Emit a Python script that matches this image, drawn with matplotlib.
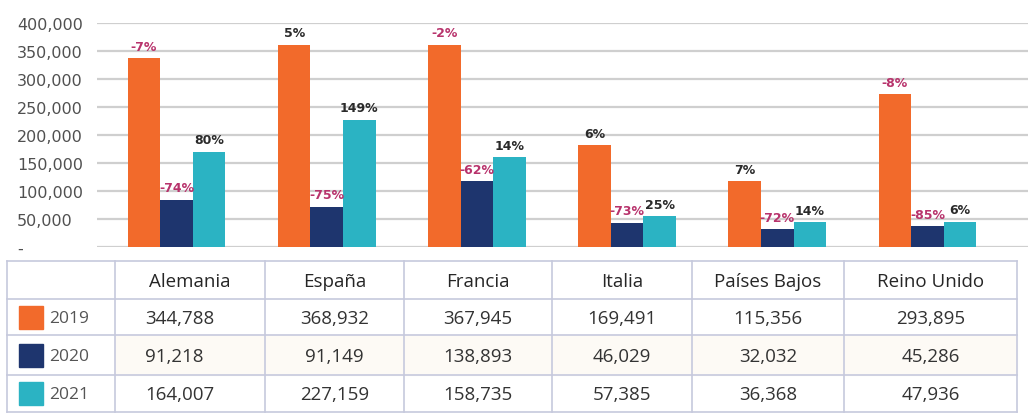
import matplotlib
matplotlib.use("Agg")
import matplotlib.pyplot as plt
from matplotlib.patches import Rectangle

# ---------------- data ----------------
countries = ["Alemania", "España", "Francia", "Italia", "Países Bajos", "Reino Unido"]
years = ["2019", "2020", "2021"]

# bar heights as drawn in the chart
bars_2019 = [337000, 361000, 361000, 182000, 117000, 273000]
bars_2020 = [84500, 72000, 117000, 43000, 32000, 37000]
bars_2021 = [170000, 227000, 160000, 55000, 44000, 45000]

# percentage labels over the bars
pct_2019 = ["-7%", "5%", "-2%", "6%", "7%", "-8%"]
pct_2020 = ["-74%", "-75%", "-62%", "-73%", "-72%", "-85%"]
pct_2021 = ["80%", "149%", "14%", "25%", "14%", "6%"]

# values in the data table
table_2019 = [344788, 368932, 367945, 169491, 115356, 293895]
table_2020 = [91218, 91149, 138893, 46029, 32032, 45286]
table_2021 = [164007, 227159, 158735, 57385, 36368, 47936]

yticks = [0, 50000, 100000, 150000, 200000, 250000, 300000, 350000, 400000]

# ---------------- style ----------------
colors = ["#F26A2B", "#1E356E", "#2BB3C3"]
neg_color = "#B8336C"
pos_color = "#2a2a2a"
text_color = "#333333"
W, H = 1028, 414

fig = plt.figure(figsize=(W / 100, H / 100), dpi=100)
fig.patch.set_facecolor("white")

ax = fig.add_axes([97 / W, (H - 248) / H, (W - 97) / W, (248 - 24) / H])
bw = 0.217
xs = list(range(len(countries)))
series = [bars_2019, bars_2020, bars_2021]
pcts = [pct_2019, pct_2020, pct_2021]
for k, (vals, labs) in enumerate(zip(series, pcts)):
    pos = [x + (k - 1) * bw for x in xs]
    ax.bar(pos, vals, width=bw, color=colors[k], zorder=3)
    for p, v, lab in zip(pos, vals, labs):
        neg = lab.startswith("-")
        ax.annotate(lab, (p, v), xytext=(0, 4), textcoords="offset points",
                    ha="center", va="bottom", fontsize=9,
                    fontweight="semibold" if neg else "bold",
                    color=neg_color if neg else pos_color,
                    family="DejaVu Sans", zorder=4, annotation_clip=False)

ax.set_xlim(-0.53, 5.67)
ax.set_ylim(0, 400000)
ax.set_yticks(yticks)
ax.set_yticklabels(["-" if t == 0 else f"{t:,}" for t in yticks],
                   fontsize=11.5, color="#505050", family="DejaVu Sans")
ax.tick_params(axis="y", length=0, pad=57.6)
for lbl in ax.get_yticklabels():
    lbl.set_horizontalalignment("left")
ax.set_xticks([])
ax.yaxis.grid(True, color="#cfcfcf", lw=1.6, zorder=0)
ax.set_axisbelow(True)
for s in ax.spines.values():
    s.set_visible(False)

# ---------------- data table ----------------
tab = fig.add_axes([0, 0, 1, 1])
tab.set_xlim(0, W)
tab.set_ylim(H, 0)
tab.axis("off")

col_edges = [7, 115, 265, 404, 552, 692, 844, 1017]
row_edges = [262, 300, 336, 376, 413]
line_c = "#c6c9dd"

# light background of 2020 row
tab.add_patch(Rectangle((col_edges[1], row_edges[2]), col_edges[-1] - col_edges[1],
                        row_edges[3] - row_edges[2], color="#fdfaf5", zorder=0))

for x in col_edges:
    tab.plot([x, x], [row_edges[0], row_edges[-1]], color=line_c, lw=1.2, zorder=1)
for y in row_edges:
    tab.plot([col_edges[0], col_edges[-1]], [y, y], color=line_c, lw=1.2, zorder=1)

font_tab = "Open Sans"
# header
for i, c in enumerate(countries):
    cx = (col_edges[i + 1] + col_edges[i + 2]) / 2
    tab.text(cx, (row_edges[0] + row_edges[1]) / 2 + 1, c, ha="center", va="center",
             fontsize=13.5, color="#262626", family=font_tab, fontweight="medium")

tables = [table_2019, table_2020, table_2021]
for r, (yr, vals) in enumerate(zip(years, tables)):
    cy = (row_edges[r + 1] + row_edges[r + 2]) / 2
    tab.add_patch(Rectangle((19, cy - 11.5), 24, 23, color=colors[r], zorder=2))
    tab.text(49, cy + 1, yr, ha="left", va="center", fontsize=12.5,
             color="#555555", family=font_tab, fontweight="medium")
    for i, v in enumerate(vals):
        if i == 0:
            tab.text(col_edges[1] + 30, cy + 1, f"{v:,}", ha="left", va="center",
                     fontsize=13.5, color=text_color, family=font_tab, fontweight="medium")
        else:
            cx = (col_edges[i + 1] + col_edges[i + 2]) / 2
            tab.text(cx, cy + 1, f"{v:,}", ha="center", va="center",
                     fontsize=13.5, color=text_color, family=font_tab, fontweight="medium")

fig.savefig("out.png", dpi=100, facecolor="white")
